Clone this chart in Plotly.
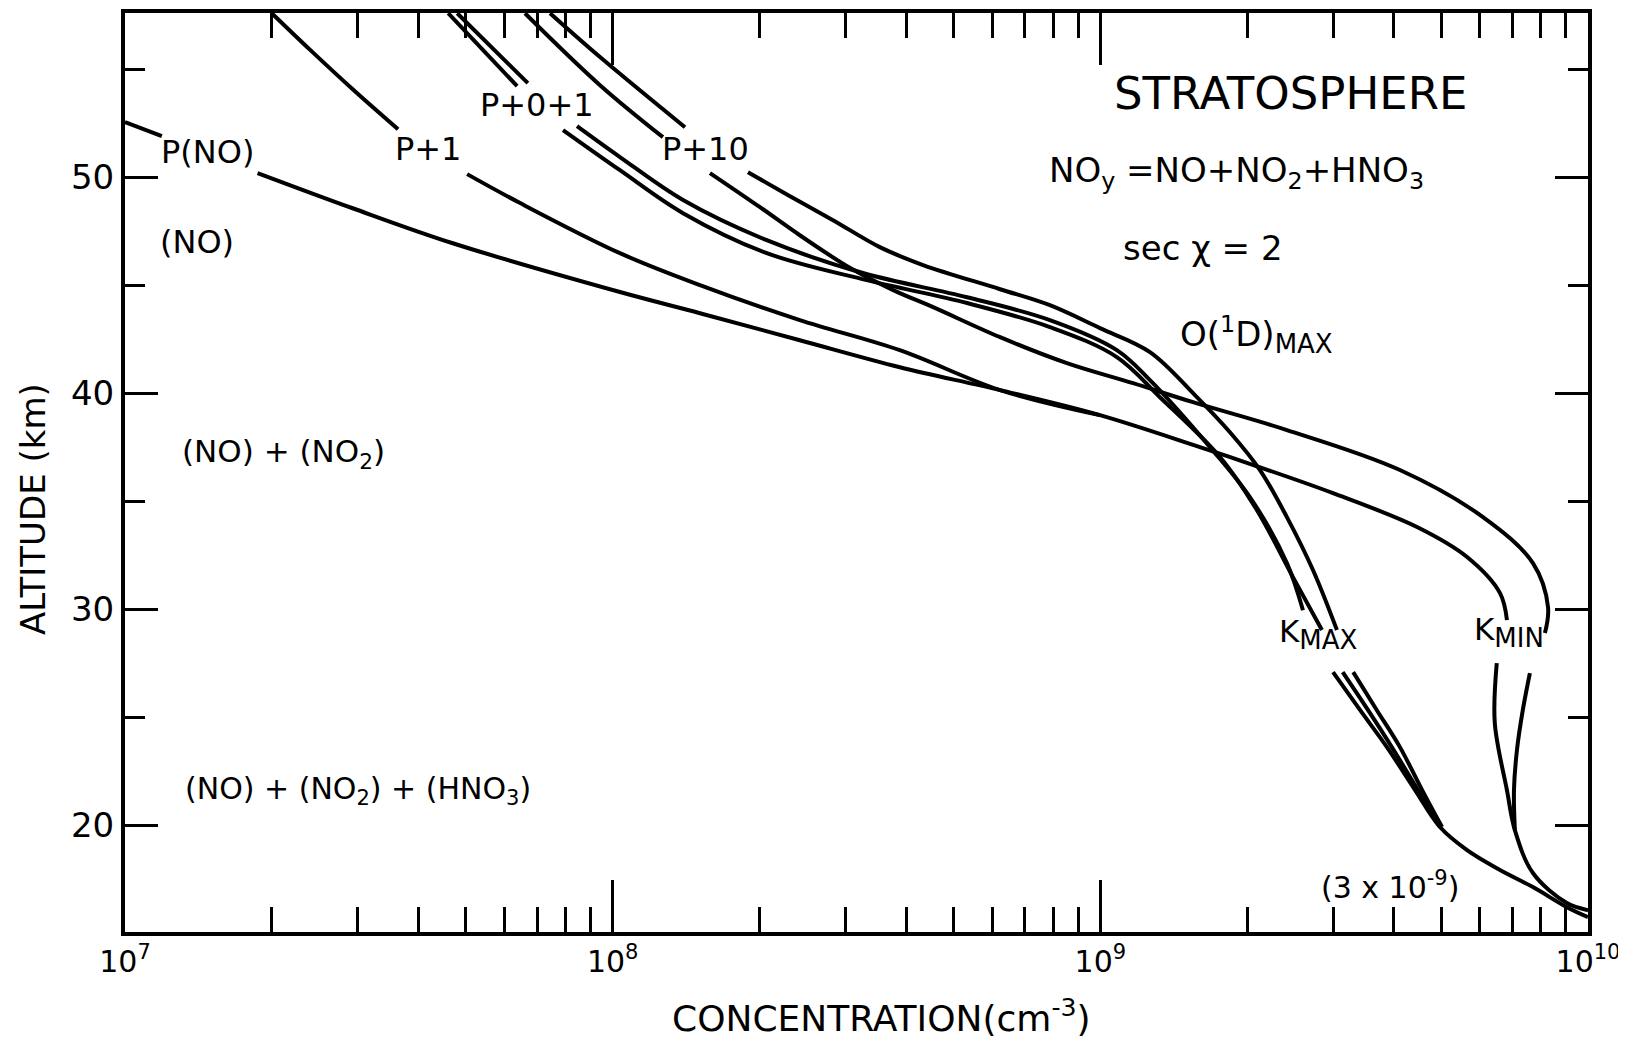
import plotly.graph_objects as go

# ---------------- data (concentration in cm^-3, altitude in km); None = gap under a label
pno_conc = [1.00e7, 1.19e7, None, 1.87e7, 2.93e7, 4.70e7, 1.035e8, 1.51e8, 2.42e8, 3.88e8, 6.23e8,
            9.98e8, 1.60e9, 2.06e9, 3.00e9, 4.46e9, 5.65e9, 6.60e9, 6.82e9, None,
            6.50e9, 6.44e9, 6.82e9, 7.08e9, 7.71e9, 9.05e9, 1.0e10]
pno_alt = [52.55, 51.90, None, 50.19, 48.56, 46.94, 44.68, 43.70, 42.45, 41.20, 40.14,
           38.98, 37.50, 36.67, 35.37, 33.80, 32.41, 30.74, 29.49, None,
           27.50, 24.72, 21.62, 19.77, 17.78, 16.39, 16.06]

p1_conc = [2.0e7, 2.40e7, 2.93e7, 3.63e7, None, 5.03e7, 6.46e7, 1.035e8, 1.51e8, 2.42e8, 3.88e8,
           6.23e8, 9.98e8]
p1_alt = [57.59, 55.88, 54.07, 52.22, None, 50.14, 48.80, 46.48, 45.00, 43.38, 41.99,
          40.14, 38.98]

p01a_conc = [4.80e7, 6.70e7, None, 8.45e7, 1.035e8, 1.394e8, 2.07e8, 3.26e8, 5.33e8, 7.88e8,
             1.081e9, 1.264e9, 1.678e9, 2.026e9, 2.413e9, 2.603e9, None,
             3.00e9, 3.41e9, 3.87e9, 4.42e9, 4.97e9, 5.65e9, 6.60e9, 7.71e9, 9.05e9, 1.0e10]
p01a_alt = [57.59, 54.35, None, 52.36, 50.93, 48.94, 47.08, 45.56, 44.44, 43.38,
            41.99, 40.60, 37.50, 35.19, 32.13, 29.95, None,
            27.08, 25.32, 23.61, 21.62, 19.91, 18.84, 17.92, 17.13, 16.20, 15.74]

p01b_conc = [4.60e7, 6.37e7, None, 7.91e7, 1.035e8, 1.394e8, 2.07e8, 3.32e8, 5.33e8, 7.88e8,
             1.081e9, 1.325e9, 1.759e9, 2.095e9, 2.483e9, 2.847e9, None,
             3.14e9, 3.54e9, 3.96e9, 4.48e9, 4.97e9]
p01b_alt = [57.59, 54.21, None, 52.18, 50.32, 48.33, 46.48, 45.23, 44.17, 43.06,
            41.67, 39.81, 37.04, 34.58, 31.48, 29.03, None,
            27.08, 25.32, 23.61, 21.62, 19.91]

p10a_conc = [7.44e7, 9.42e7, 1.407e8, None, 1.894e8, 2.31e8, 2.83e8, 3.53e8, 4.33e8, 6.23e8, 7.88e8,
             9.98e8, 1.264e9, 1.563e9, 1.844e9, 2.125e9, 2.413e9, 2.729e9, 3.056e9, None,
             3.30e9, 3.69e9, 4.115e9, 4.57e9, 5.02e9]
p10a_alt = [57.59, 55.56, 52.31, None, 50.23, 49.12, 48.01, 46.76, 45.93, 44.81, 44.07,
            43.01, 41.90, 39.91, 38.19, 36.44, 34.26, 31.81, 29.03, None,
            27.08, 25.32, 23.61, 21.62, 19.91]

p10b_conc = [6.61e7, 9.42e7, 1.268e8, None, 1.583e8, 2.005e8, 2.42e8, 3.07e8, 3.76e8, 4.54e8, 6.23e8,
             8.54e8, 1.167e9, 1.549e9, 2.413e9, 4.115e9, 6.09e9, 7.71e9, 8.28e9, 8.16e9, None,
             7.60e9, 7.35e9, 7.15e9, 7.05e9, 7.08e9]
p10b_alt = [57.59, 54.26, 51.85, None, 50.19, 48.61, 47.31, 45.79, 44.77, 43.98, 42.59,
            41.39, 40.46, 39.58, 38.29, 36.44, 34.26, 32.13, 30.09, 28.89, None,
            27.04, 25.32, 23.47, 21.62, 19.77]

x_major = [1e7, 1e8, 1e9, 1e10]
x_major_text = ["10<sup>7</sup>", "10<sup>8</sup>", "10<sup>9</sup>", "10<sup>10</sup>"]
x_minor = [m * d for d in (1e7, 1e8, 1e9) for m in range(2, 10)]
y_major = [20, 30, 40, 50]
y_minor = [25, 35, 45, 55]

FONT = "DejaVu Sans"
LW = 4

fig = go.Figure()
curves = [(pno_conc, pno_alt), (p1_conc, p1_alt), (p01a_conc, p01a_alt),
          (p01b_conc, p01b_alt), (p10a_conc, p10a_alt), (p10b_conc, p10b_alt)]
for cx, cy in curves:
    fig.add_trace(go.Scatter(x=cx, y=cy, mode="lines", connectgaps=False,
                             line=dict(color="black", width=LW, shape="spline", smoothing=1.0),
                             showlegend=False, hoverinfo="skip"))

SUBMAX = "<sub><span style='font-size:26px'>MAX</span></sub>"
SUBMIN = "<sub><span style='font-size:26px'>MIN</span></sub>"
labels = [
    ("P(NO)", 7.170, 51.16, "center", 32),
    ("P+1", 7.622, 51.30, "center", 32),
    ("P+0+1", 7.845, 53.33, "center", 32),
    ("P+10", 8.190, 51.30, "center", 32),
    ("(NO)", 7.148, 46.99, "center", 32),
    ("(NO) + (NO<sub>2</sub>)", 7.112, 37.22, "left", 31),
    ("(NO) + (NO<sub>2</sub>) + (HNO<sub>3</sub>)", 7.118, 21.62, "left", 30),
    ("STRATOSPHERE", 9.390, 53.89, "center", 45),
    ("NO<sub>y</sub> =NO+NO<sub>2</sub>+HNO<sub>3</sub>", 8.890, 50.23, "left", 34),
    ("sec χ = 2", 9.210, 46.71, "center", 34),
    ("O(<sup>1</sup>D)" + SUBMAX, 9.160, 42.73, "left", 34),
    ("K" + SUBMAX, 9.362, 28.84, "left", 31),
    ("K" + SUBMIN, 9.762, 28.94, "left", 31),
    ("(3 x 10<sup>-9</sup>)", 9.448, 17.22, "left", 30),
]
for text, lx, ly, anchor, size in labels:
    fig.add_annotation(x=lx, y=ly, xref="x", yref="y", text=text, showarrow=False,
                       xanchor=anchor, yanchor="middle",
                       font=dict(family=FONT, size=size, color="black"))

# axis titles (placed like the reference: slightly off-centre)
fig.add_annotation(x=-0.0629, y=0.4603, xref="paper", yref="paper", text="ALTITUDE (km)",
                   textangle=-90, showarrow=False, xanchor="center", yanchor="middle",
                   font=dict(family=FONT, size=34, color="black"))
fig.add_annotation(x=0.5168, y=-0.0914, xref="paper", yref="paper",
                   text="CONCENTRATION(cm<sup>-3</sup>)", showarrow=False,
                   xanchor="center", yanchor="middle",
                   font=dict(family=FONT, size=36, color="black"))

axis_common = dict(showline=True, linewidth=4, linecolor="black", mirror="ticks",
                   showgrid=False, zeroline=False, ticks="inside", tickwidth=3,
                   tickcolor="black")

fig.update_xaxes(type="log", range=[7, 10], tickmode="array", tickvals=x_major,
                 ticktext=x_major_text, ticklen=52,
                 tickfont=dict(family=FONT, size=30, color="black"),
                 minor=dict(tickmode="array", tickvals=x_minor, ticks="inside", ticklen=25,
                            tickwidth=3, tickcolor="black", showgrid=False),
                 automargin=False, **axis_common)
fig.update_yaxes(range=[15.05, 57.6], tickmode="array", tickvals=y_major, ticklen=33,
                 tickfont=dict(family=FONT, size=34, color="black"),
                 minor=dict(tickmode="array", tickvals=y_minor, ticks="inside", ticklen=20,
                            tickwidth=3, tickcolor="black", showgrid=False),
                 automargin=False, **axis_common)

fig.update_layout(width=1626, height=1037, paper_bgcolor="white", plot_bgcolor="white",
                  margin=dict(l=117, r=46, t=5, b=113), showlegend=False)

fig.write_html("out.html")
